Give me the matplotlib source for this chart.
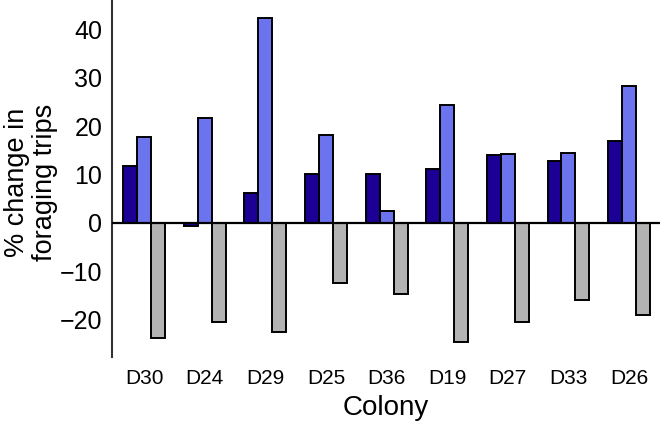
import matplotlib
matplotlib.use('Agg')
import matplotlib.pyplot as plt
import numpy as np

COLONIES = ['D30', 'D24', 'D29', 'D25', 'D36', 'D19', 'D27', 'D33', 'D26']
DARK = [11.8, -0.7, 6.2, 10.0, 10.0, 11.1, 14.1, 12.8, 16.9]
LIGHT = [17.8, 21.7, 42.3, 18.2, 2.5, 24.4, 14.2, 14.4, 28.3]
GREY = [-23.8, -20.5, -22.7, -12.4, -14.7, -24.6, -20.6, -15.9, -19.1]
YTICKS = [-20, -10, 0, 10, 20, 30, 40]

COLORS = ['#1c0096', '#6b73ee', '#b3b3b3']

plt.rcParams['font.family'] = ['Liberation Sans', 'DejaVu Sans']

fig = plt.figure(figsize=(6.6, 4.25), dpi=100)
ax = fig.add_axes([112 / 660, 1 - 357 / 425, 1 - 112 / 660, 357 / 425])

x = np.arange(len(COLONIES))
w = 0.23
for off, vals, col in zip((-w, 0, w), (DARK, LIGHT, GREY), COLORS):
    ax.bar(x + off, vals, width=w, color=col, edgecolor='black',
           linewidth=1.4, zorder=3)

ax.axhline(0, color='black', linewidth=1.6, zorder=4)

ax.set_xlim(-0.53, 8.51)
ax.set_ylim(-27.8, 46.1)
ax.set_yticks(YTICKS)
ax.set_yticklabels([f'{v}'.replace('-', '\u2212') for v in YTICKS])
ax.set_xticks(x)
ax.set_xticklabels(COLONIES)
ax.tick_params(axis='y', length=0, pad=7, labelsize=18)
ax.tick_params(axis='x', length=0, pad=9, labelsize=15)

for side in ('top', 'right', 'bottom'):
    ax.spines[side].set_visible(False)
ax.spines['left'].set_color('#333333')
ax.spines['left'].set_linewidth(1.5)

ax.set_xlabel('Colony', fontsize=20, labelpad=5)
ax.set_ylabel('% change in\nforaging trips', fontsize=19.5, linespacing=1.12)
ax.yaxis.set_label_coords(-0.098, 0.49)

fig.savefig('out.png', dpi=100)
